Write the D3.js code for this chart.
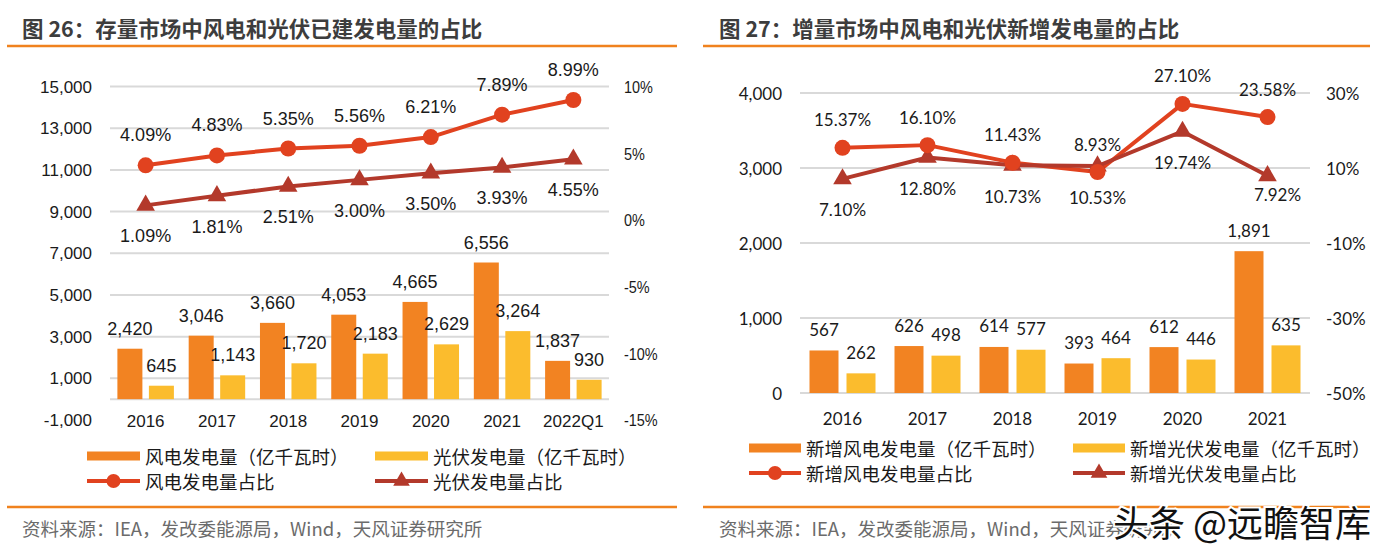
<!DOCTYPE html>
<html><head><meta charset="utf-8">
<script src="https://cdn.jsdelivr.net/npm/d3@7"></script>
<style>body{margin:0;background:#fff}svg{display:block}</style>
</head><body>
<svg id="c" width="1376" height="554"></svg>
<script>
// ---------- data: figure 26 ----------
const catsA = ["2016","2017","2018","2019","2020","2021","2022Q1"];
const windGenA = [2420,3046,3660,4053,4665,6556,1837];
const solarGenA = [645,1143,1720,2183,2629,3264,930];
const windShareA = [4.09,4.83,5.35,5.56,6.21,7.89,8.99];
const solarShareA = [1.09,1.81,2.51,3.00,3.50,3.93,4.55];
const leftTicksA = [-1000,1000,3000,5000,7000,9000,11000,13000,15000];
const rightTicksA = [-15,-10,-5,0,5,10];
const titleA = "图 26：存量市场中风电和光伏已建发电量的占比";
const legendA = ["风电发电量（亿千瓦时）","光伏发电量（亿千瓦时）","风电发电量占比","光伏发电量占比"];

// ---------- data: figure 27 ----------
const catsB = ["2016","2017","2018","2019","2020","2021"];
const windGenB = [567,626,614,393,612,1891];
const solarGenB = [262,498,577,464,446,635];
const windShareB = [15.37,16.10,11.43,8.93,27.10,23.58];
const solarShareB = [7.10,12.80,10.73,10.53,19.74,7.92];
const leftTicksB = [0,1000,2000,3000,4000];
const rightTicksB = [-50,-30,-10,10,30];
const titleB = "图 27：增量市场中风电和光伏新增发电量的占比";
const legendB = ["新增风电发电量（亿千瓦时）","新增光伏发电量（亿千瓦时）","新增风电发电量占比","新增光伏发电量占比"];

const sourceText = "资料来源：IEA，发改委能源局，Wind，天风证券研究所";

const C = {wind:"#f28322", solar:"#fbbc2d", windLine:"#e1421f", solarLine:"#b3392b",
  rule:"#f0821e", grid:"#d9d9d9", text:"#1a1a1a", title:"#3d3d3d", src:"#6b6b6b"};
const CJK = "'Noto Sans CJK SC','Noto Sans',sans-serif";
const svg = d3.select("#c");
const fmt = v => d3.format(",")(v).replace("\u2212","-");

function panel(p){
  const g = svg.append("g");
  g.append("text").attr("x",p.titleX).attr("y",27).attr("dominant-baseline","central")
    .attr("font-family",CJK).attr("font-weight","bold").attr("font-size",21.5)
    .attr("fill",C.title).text(p.title);
  [46,507].forEach(y=>g.append("line").attr("x1",p.rule[0]).attr("x2",p.rule[1])
    .attr("y1",y).attr("y2",y).attr("stroke",C.rule).attr("stroke-width",2.5));

  const x = d3.scaleBand().domain(p.cats).range(p.xRange);
  const yL = d3.scaleLinear().domain(d3.extent(p.leftTicks)).range(p.yRange);
  const yR = d3.scaleLinear().domain(d3.extent(p.rightTicks)).range(p.yRange);
  const cx = c => x(c) + x.bandwidth()/2;

  const gridVals = p.leftTicks.filter(v=>v>0).concat([0]);
  g.selectAll(null).data(gridVals).join("line")
    .attr("x1",p.xRange[0]).attr("x2",p.xRange[1])
    .attr("y1",d=>yL(d)).attr("y2",d=>yL(d))
    .attr("stroke",C.grid).attr("stroke-width",2);

  // axes
  const aL = g.append("g").attr("transform",`translate(${p.leftLabelX},0)`)
    .call(d3.axisLeft(yL).tickValues(p.leftTicks).tickSize(0).tickPadding(0).tickFormat(fmt));
  aL.select(".domain").remove();
  aL.selectAll("text").attr("font-family",p.font).attr("font-size",p.axisSize).attr("fill",C.text)
    .attr("dy",null).attr("dominant-baseline","central");
  const aR = g.append("g").attr("transform",`translate(${p.rightLabelX},0)`)
    .call(d3.axisRight(yR).tickValues(p.rightTicks).tickSize(0).tickPadding(0).tickFormat(d=>(d<0?"-":"")+Math.abs(d)+"%"));
  aR.select(".domain").remove();
  aR.selectAll("text").attr("font-family",p.font).attr("font-size",p.axisSize).attr("fill",C.text)
    .attr("dy",null).attr("dominant-baseline","central");
  if(p.rightScaleX){
    aR.selectAll(".tick text").attr("transform",`scale(${p.rightScaleX},1)`);
  }
  const aB = g.append("g").attr("transform",`translate(0,${p.catY})`)
    .call(d3.axisBottom(x).tickSize(0).tickPadding(0));
  aB.select(".domain").remove();
  aB.selectAll("text").attr("font-family",p.font).attr("font-size",p.catSize).attr("fill",C.text)
    .attr("dy",null).attr("y",0).attr("dominant-baseline","central");

  // bars
  const w = p.barW, gap = p.barGap;
  const bars = [
    {vals:p.windGen, color:C.wind, off:-gap/2-w},
    {vals:p.solarGen, color:C.solar, off:gap/2}
  ];
  bars.forEach(b=>{
    g.selectAll(null).data(p.cats).join("rect")
      .attr("x",c=>cx(c)+b.off).attr("width",w)
      .attr("y",(c,i)=>yL(b.vals[i])).attr("height",(c,i)=>yL(0)-yL(b.vals[i]))
      .attr("fill",b.color);
    g.selectAll(null).data(p.cats).join("text")
      .attr("x",c=>cx(c)+b.off+w/2).attr("y",(c,i)=>yL(b.vals[i])-p.barLabelOff)
      .attr("text-anchor","middle").attr("dominant-baseline","central")
      .attr("font-family",p.font).attr("font-size",p.labelSize).attr("fill",C.text)
      .text((c,i)=>fmt(b.vals[i]));
  });

  // lines
  const line = vals => d3.line().x((c)=>cx(c)).y((c,i)=>yR(vals[i]))(p.cats);
  g.append("path").attr("d",line(p.windShare)).attr("fill","none")
    .attr("stroke",C.windLine).attr("stroke-width",4).attr("stroke-linejoin","round");
  g.append("path").attr("d",line(p.solarShare)).attr("fill","none")
    .attr("stroke",C.solarLine).attr("stroke-width",4).attr("stroke-linejoin","round");
  const tri = d3.symbol().type(d3.symbolTriangle).size(150);
  g.selectAll(null).data(p.cats).join("path")
    .attr("d",tri()).attr("transform",(c,i)=>`translate(${cx(c)},${yR(p.solarShare[i])})`)
    .attr("fill",C.solarLine);
  g.selectAll(null).data(p.cats).join("circle")
    .attr("cx",c=>cx(c)).attr("cy",(c,i)=>yR(p.windShare[i])).attr("r",8)
    .attr("fill",C.windLine);
  g.selectAll(null).data(p.cats).join("text")
    .attr("x",c=>cx(c)).attr("y",(c,i)=>yR(p.windShare[i])-p.shareOffUp)
    .attr("text-anchor","middle").attr("dominant-baseline","central")
    .attr("font-family",p.font).attr("font-size",p.labelSize).attr("fill",C.text)
    .text((c,i)=>p.windShare[i].toFixed(2)+"%");
  // the last below-label of the right panel sits a little lower-right in the reference
  g.selectAll(null).data(p.cats).join("text")
    .attr("x",(c,i)=>cx(c)+(p.lastShift && i===p.cats.length-1 ? p.lastShift[0] : 0))
    .attr("y",(c,i)=>yR(p.solarShare[i])+p.shareOffDown+(p.lastShift && i===p.cats.length-1 ? p.lastShift[1] : 0))
    .attr("text-anchor","middle").attr("dominant-baseline","central")
    .attr("font-family",p.font).attr("font-size",p.labelSize).attr("fill",C.text)
    .text((c,i)=>p.solarShare[i].toFixed(2)+"%");

  // legend
  const L = p.legend;
  const items = [
    {t:p.legendText[0], type:"bar", color:C.wind, col:0, row:0},
    {t:p.legendText[1], type:"bar", color:C.solar, col:1, row:0},
    {t:p.legendText[2], type:"circle", color:C.windLine, col:0, row:1},
    {t:p.legendText[3], type:"tri", color:C.solarLine, col:1, row:1}
  ];
  items.forEach(it=>{
    const x0 = L.cols[it.col], y0 = L.rows[it.row];
    if(it.type==="bar"){
      g.append("rect").attr("x",x0).attr("y",y0-4.5).attr("width",L.sw).attr("height",9).attr("fill",it.color);
    } else {
      g.append("line").attr("x1",x0).attr("x2",x0+L.sw).attr("y1",y0).attr("y2",y0)
        .attr("stroke",it.color).attr("stroke-width",4);
      if(it.type==="circle") g.append("circle").attr("cx",x0+L.sw/2).attr("cy",y0).attr("r",7).attr("fill",it.color);
      else g.append("path").attr("d",d3.symbol().type(d3.symbolTriangle).size(120)()).attr("transform",`translate(${x0+L.sw/2},${y0})`).attr("fill",it.color);
    }
    g.append("text").attr("x",x0+L.sw+5).attr("y",y0).attr("dominant-baseline","central")
      .attr("font-family",CJK).attr("font-size",18.5).attr("fill",C.text).text(it.t);
  });

  g.append("text").attr("x",p.titleX).attr("y",528).attr("dominant-baseline","central")
    .attr("font-family",CJK).attr("font-size",18.5).attr("fill",C.src).text(sourceText);
}

panel({
  title:titleA, titleX:22, rule:[7,677], cats:catsA,
  windGen:windGenA, solarGen:solarGenA, windShare:windShareA, solarShare:solarShareA,
  leftTicks:leftTicksA, rightTicks:rightTicksA,
  xRange:[110,609], yRange:[420,86.5],
  leftLabelX:92, rightLabelX:624, rightScaleX:0.85, catY:421,
  font:"'Liberation Sans',Arial,sans-serif", axisSize:17, catSize:17, labelSize:18,
  barW:25, barGap:6.5, barLabelOff:20, shareOffUp:30, shareOffDown:31,
  legend:{cols:[87,375], rows:[456,481], sw:53}, legendText:legendA
});
panel({
  title:titleB, titleX:719, rule:[703,1370], cats:catsB,
  windGen:windGenB, solarGen:solarGenB, windShare:windShareB, solarShare:solarShareB,
  leftTicks:leftTicksB, rightTicks:rightTicksB,
  xRange:[800,1310], yRange:[393,93],
  leftLabelX:782, rightLabelX:1326, rightScaleX:null, catY:418,
  font:"Lato,'Open Sans',sans-serif", axisSize:17, catSize:17, labelSize:17,
  barW:29, barGap:8, barLabelOff:21, shareOffUp:28, shareOffDown:31, lastShift:[10,-12],
  legend:{cols:[749,1073], rows:[448,473], sw:52}, legendText:legendB
});

// watermark
svg.append("text").attr("x",1113).attr("y",537)
  .attr("font-family",CJK).attr("font-size",36).attr("fill","#111")
  .attr("stroke","#fff").attr("stroke-width",4).attr("paint-order","stroke")
  .text("头条 @远瞻智库");
</script>
</body></html>
